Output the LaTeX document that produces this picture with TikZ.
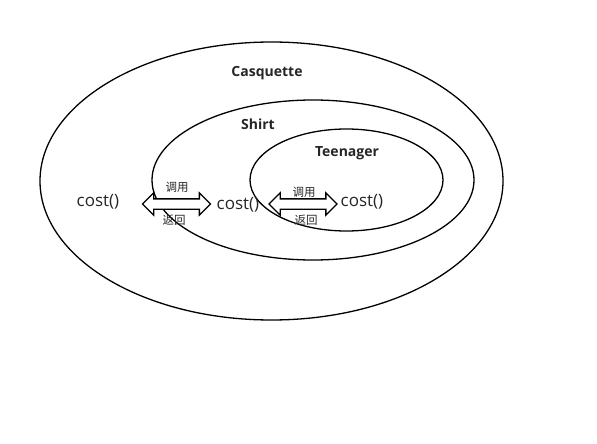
\documentclass[tikz,border=0pt]{standalone}
\usepackage{fontspec}
\setmainfont{Open Sans}
\newfontfamily\cjk{Noto Sans CJK SC}
\usetikzlibrary{shapes.geometric,shapes.arrows}
\begin{document}
\begin{tikzpicture}
	[x=1pt,y=-1pt,
	layer/.style={draw,ellipse,line width=1.3pt,inner sep=0pt},
	title/.style={font=\bfseries\fontsize{14}{15}\selectfont,text=black!85},
	method/.style={font=\fontsize{17}{19}\selectfont,text=black!85},
	word/.style={font=\cjk\fontsize{11.5}{13}\selectfont,text=black!85},
	call/.style={draw,double arrow,line width=1.3pt,fill=white,inner xsep=0pt,inner ysep=4.5pt,
		minimum width=21pt,minimum height=68pt,double arrow head extend=6pt,
		double arrow head indent=0pt}]
	\useasboundingbox (0,0) rectangle (597,444);
	\node[layer,minimum width=463pt,minimum height=278pt] (casquette) at (271.5,181) {};
	\node[layer,minimum width=322pt,minimum height=160pt] (shirt) at (313,180) {};
	\node[layer,minimum width=193pt,minimum height=102pt] (teenager) at (346.5,180) {};
	\node[title] (casquette label) at (267,73) {Casquette};
	\node[title] (shirt label) at (258,124) {Shirt};
	\node[title] (teenager label) at (347,153) {Teenager};
	\node[method] (cost1) at (98,202) {cost()};
	\node[method] (cost2) at (238,205) {cost()};
	\node[method] (cost3) at (362,202) {cost()};
	\node[call] (arrow1) at (176.5,204) {};
	\node[call] (arrow2) at (303,204) {};
	\node[word] at (177,187) {调用};
	\node[word] at (174,220) {返回};
	\node[word] at (304,192) {调用};
	\node[word] at (306,220) {返回};
\end{tikzpicture}
\end{document}
